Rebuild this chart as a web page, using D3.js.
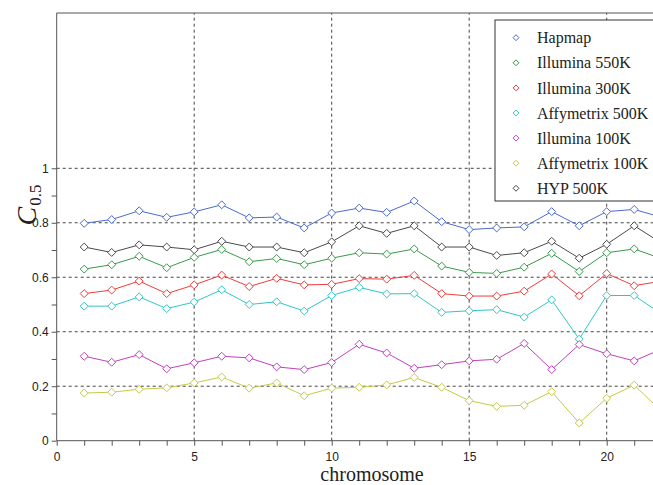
<!DOCTYPE html>
<html>
<head>
<meta charset="utf-8">
<script src="https://cdn.jsdelivr.net/npm/d3@7"></script>
<style>
  body { margin: 0; background: #fff; }
  .tick text { font-family: "Liberation Sans", Arial, sans-serif; font-size: 12px; fill: #222; }
  .domain, .tick line { stroke: #555; }
  .serif { font-family: "Liberation Serif", "DejaVu Serif", "Times New Roman", serif; }
</style>
</head>
<body>
<div class="chart"></div>
<script>
// chromosomes 1..22
const chromosomes = d3.range(1, 23);

const seriesNames = ["Hapmap", "Illumina 550K", "Illumina 300K", "Affymetrix 500K",
                     "Illumina 100K", "Affymetrix 100K", "HYP 500K"];
const seriesColors = ["#4a6ad0", "#3a9a4c", "#f03c3c", "#30c6c8", "#c040be", "#c8c84a", "#4a4a4a"];

const hapmap = [0.798, 0.812, 0.844, 0.820, 0.840, 0.866, 0.818, 0.821, 0.781, 0.836, 0.854,
                0.838, 0.880, 0.804, 0.775, 0.781, 0.785, 0.841, 0.789, 0.841, 0.849, 0.820];
const illumina550 = [0.630, 0.646, 0.677, 0.635, 0.673, 0.702, 0.657, 0.669, 0.646, 0.670, 0.690,
                     0.685, 0.704, 0.641, 0.618, 0.614, 0.637, 0.688, 0.621, 0.690, 0.704, 0.668];
const illumina300 = [0.540, 0.553, 0.586, 0.540, 0.572, 0.608, 0.566, 0.596, 0.572, 0.574, 0.595,
                     0.593, 0.607, 0.540, 0.531, 0.531, 0.549, 0.612, 0.532, 0.614, 0.569, 0.586];
const affy500 = [0.494, 0.494, 0.528, 0.485, 0.509, 0.554, 0.500, 0.510, 0.476, 0.533, 0.563,
                 0.539, 0.540, 0.471, 0.477, 0.481, 0.454, 0.517, 0.373, 0.533, 0.533, 0.465];
const illumina100 = [0.310, 0.288, 0.316, 0.264, 0.286, 0.310, 0.304, 0.271, 0.261, 0.287, 0.354,
                     0.322, 0.266, 0.279, 0.293, 0.299, 0.357, 0.261, 0.353, 0.319, 0.293, 0.337];
const affy100 = [0.175, 0.178, 0.189, 0.194, 0.212, 0.234, 0.193, 0.212, 0.165, 0.193, 0.196,
                 0.205, 0.232, 0.196, 0.147, 0.126, 0.130, 0.180, 0.065, 0.156, 0.204, 0.108];
const hyp500 = [0.711, 0.691, 0.719, 0.711, 0.701, 0.732, 0.711, 0.711, 0.690, 0.730, 0.789,
                0.761, 0.789, 0.711, 0.711, 0.680, 0.690, 0.732, 0.670, 0.721, 0.789, 0.725];

const seriesValues = [hapmap, illumina550, illumina300, affy500, illumina100, affy100, hyp500];

const xTicks = [0, 5, 10, 15, 20];
const yTicks = [0, 0.2, 0.4, 0.6, 0.8, 1];

const width = 653, height = 485;
const svg = d3.select(".chart").append("svg")
    .attr("width", width)
    .attr("height", height)
    .style("display", "block");

const x = d3.scaleLinear().domain([0, 22]).range([56.7, 661.7]);
const y = d3.scaleLinear().domain([0, 1]).range([440.7, 168.3]);
const topY = 13;

svg.append("clipPath").attr("id", "plot")
  .append("rect")
    .attr("x", x(0)).attr("y", topY)
    .attr("width", width - x(0)).attr("height", y(0) - topY);

// grid
const grid = svg.append("g").attr("stroke", "#444").attr("stroke-dasharray", "3,3").attr("stroke-width", 1);
grid.selectAll(".gy").data(yTicks.filter(d => d > 0)).enter().append("line")
    .attr("x1", x(0)).attr("x2", width)
    .attr("y1", d => y(d)).attr("y2", d => y(d));
grid.selectAll(".gx").data(xTicks.filter(d => d > 0)).enter().append("line")
    .attr("x1", d => x(d)).attr("x2", d => x(d))
    .attr("y1", y(0)).attr("y2", topY);

// top border
svg.append("line")
    .attr("x1", x(0)).attr("x2", width)
    .attr("y1", topY).attr("y2", topY)
    .attr("stroke", "#555");

// axes
const xAxis = svg.append("g")
    .attr("transform", `translate(0,${y(0)})`)
    .call(d3.axisBottom(x).tickValues(d3.range(0, 23)).tickSize(5).tickPadding(7)
        .tickFormat(d => xTicks.includes(d) ? d : ""));
xAxis.select(".domain").attr("d", `M${x(0)},0H${width}`);

const yAxis = svg.append("g")
    .attr("transform", `translate(${x(0)},0)`)
    .call(d3.axisLeft(y).tickValues(d3.range(0, 11).map(i => i / 10)).tickSize(5).tickPadding(3)
        .tickFormat(d => {
            const r = Math.round(d * 10);
            return r % 2 === 0 ? d3.format("")(r / 10) : "";
        }));
yAxis.select(".domain").attr("d", `M0,${y(0)}V${topY}`);

// series
const line = d3.line().x((d, i) => x(chromosomes[i])).y(d => y(d));
const diamond = d3.symbol().type(d3.symbolDiamond2).size(40);

const plot = svg.append("g").attr("clip-path", "url(#plot)");
seriesValues.forEach((vals, s) => {
    plot.append("path")
        .attr("d", line(vals))
        .attr("fill", "none")
        .attr("stroke", seriesColors[s])
        .attr("stroke-width", 1);
    plot.selectAll(null)
        .data(vals)
        .enter()
        .append("path")
        .attr("d", diamond)
        .attr("transform", (d, i) => `translate(${x(chromosomes[i])},${y(d)})`)
        .attr("fill", "#fff")
        .attr("stroke", seriesColors[s])
        .attr("stroke-width", 1);
});

// legend
const legend = svg.append("g");
legend.append("rect")
    .attr("x", 495).attr("y", 20)
    .attr("width", 170).attr("height", 181)
    .attr("fill", "#fff").attr("stroke", "#333");
const rows = legend.selectAll(".row")
    .data(seriesNames)
    .enter()
    .append("g")
    .attr("transform", (d, i) => `translate(516,${37.7 + i * 25.1})`);
rows.append("path")
    .attr("d", d3.symbol().type(d3.symbolDiamond2).size(22))
    .attr("fill", "#fff")
    .attr("stroke", (d, i) => seriesColors[i]);
rows.append("text")
    .attr("class", "serif")
    .attr("x", 21)
    .attr("dy", "0.35em")
    .attr("font-size", 16)
    .attr("fill", "#222")
    .text(d => d);

// axis titles
svg.append("text")
    .attr("class", "serif")
    .attr("x", 372)
    .attr("y", 481)
    .attr("text-anchor", "middle")
    .attr("font-size", 20)
    .attr("fill", "#222")
    .text("chromosome");

const ylab = svg.append("text")
    .attr("class", "serif")
    .attr("transform", "translate(36,205) rotate(-90)")
    .attr("text-anchor", "middle")
    .attr("fill", "#222");
ylab.append("tspan").attr("font-style", "italic").attr("font-size", 28).text("C");
ylab.append("tspan").attr("font-size", 17).attr("dy", 5).attr("dx", 1).text("0.5");
</script>
</body>
</html>
